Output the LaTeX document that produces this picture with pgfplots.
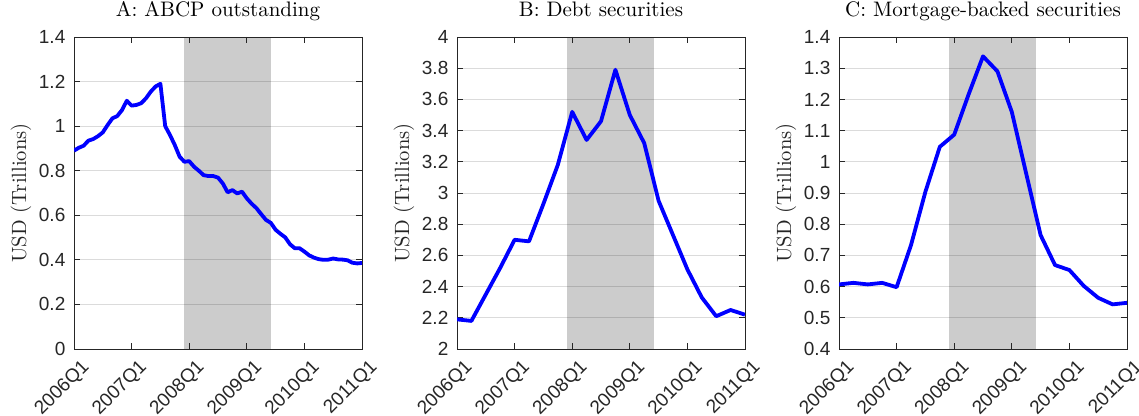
\documentclass[border=0pt]{standalone}
\usepackage{pgfplots}
\pgfplotsset{compat=1.18}
\usepackage{pgfplotstable}
\usepackage{fontspec}
\newfontfamily\helv{Liberation Sans}

\definecolor{recgray}{RGB}{204,204,204}
\definecolor{axgray}{RGB}{38,38,38}
\definecolor{lineblue}{RGB}{0,0,255}

% ABCP outstanding, monthly (m = months since 2006M1)
\pgfplotstableread{
m   v
0   0.890
1   0.903
2   0.912
3   0.935
4   0.942
5   0.955
6   0.972
7   1.005
8   1.035
9   1.045
10  1.072
11  1.114
12  1.092
13  1.095
14  1.103
15  1.125
16  1.155
17  1.178
18  1.190
19  1.000
20  0.960
21  0.915
22  0.863
23  0.840
24  0.843
25  0.818
26  0.800
27  0.780
28  0.776
29  0.776
30  0.769
31  0.743
32  0.703
33  0.713
34  0.698
35  0.706
36  0.676
37  0.652
38  0.632
39  0.605
40  0.579
41  0.566
42  0.535
43  0.517
44  0.501
45  0.470
46  0.452
47  0.452
48  0.437
49  0.420
50  0.410
51  0.403
52  0.400
53  0.401
54  0.406
55  0.402
56  0.401
57  0.398
58  0.387
59  0.384
60  0.386
}\abcp

% Debt securities, quarterly (q = quarters since 2006Q1)
\pgfplotstableread{
q   v
0   2.19
1   2.18
2   2.35
3   2.52
4   2.70
5   2.69
6   2.93
7   3.18
8   3.52
9   3.34
10  3.46
11  3.79
12  3.50
13  3.32
14  2.95
15  2.73
16  2.51
17  2.33
18  2.21
19  2.25
20  2.22
}\debt

% Mortgage-backed securities, quarterly
\pgfplotstableread{
q   v
0   0.607
1   0.612
2   0.607
3   0.612
4   0.598
5   0.733
6   0.904
7   1.048
8   1.087
9   1.216
10  1.338
11  1.290
12  1.160
13  0.962
14  0.765
15  0.669
16  0.653
17  0.602
18  0.564
19  0.543
20  0.548
}\mbs

\pgfplotsset{
  panel/.style={
    scale only axis, width=144pt, height=156pt,
    anchor=south west,
    set layers,
    xmin=2006, xmax=2011,
    xtick={2006,2007,2008,2009,2010,2011},
    xticklabels={2006Q1,2007Q1,2008Q1,2009Q1,2010Q1,2011Q1},
    tick label style={font=\helv\fontsize{9.5}{10}\selectfont, text=axgray},
    xticklabel style={rotate=45, anchor=north east, xshift=2.5pt, yshift=-2pt},
    yticklabel style={xshift=-0.8pt},
    /pgf/number format/assume math mode=true,
    ymajorgrids,
    grid style={black, opacity=0.14, line width=0.45pt},
    axis line style={axgray, line width=0.45pt},
    major tick style={axgray, line width=0.45pt},
    major tick length=3pt,
    tick align=inside,
    ylabel={USD (Trillions)},
    every axis y label/.style={at={(axis description cs:-0.184,0.5)},
      rotate=90, anchor=center, font=\fontsize{10.3}{12}\selectfont, text=axgray},
    title style={at={(0.5,1)}, anchor=base, yshift=4pt,
      font=\fontsize{10.5}{12}\selectfont},
  },
  recession/.style={on layer=axis background, draw=none, fill=recgray},
  series/.style={lineblue, line width=1.9pt, line join=round, mark=none},
}

\begin{document}
\begin{tikzpicture}

\begin{axis}[panel, at={(37pt,33.5pt)},
  title={A: ABCP outstanding},
  ymin=0, ymax=1.4, ytick={0,0.2,0.4,0.6,0.8,1,1.2,1.4}]
  \addplot[recession] coordinates {(2007.9167,0) (2009.4167,0) (2009.4167,1.4) (2007.9167,1.4)} --cycle;
  \addplot[series] table[x expr=2006+\thisrow{m}/12, y=v] {\abcp};
\end{axis}

\begin{axis}[panel, at={(228.5pt,33.5pt)},
  title={B: Debt securities},
  ymin=2, ymax=4, ytick={2,2.2,2.4,2.6,2.8,3,3.2,3.4,3.6,3.8,4}]
  \addplot[recession] coordinates {(2007.9167,2) (2009.4167,2) (2009.4167,4) (2007.9167,4)} --cycle;
  \addplot[series] table[x expr=2006+\thisrow{q}/4, y=v] {\debt};
\end{axis}

\begin{axis}[panel, at={(419.5pt,33.5pt)},
  title={C: Mortgage-backed securities},
  ymin=0.4, ymax=1.4, ytick={0.4,0.5,0.6,0.7,0.8,0.9,1,1.1,1.2,1.3,1.4}]
  \addplot[recession] coordinates {(2007.9167,0.4) (2009.4167,0.4) (2009.4167,1.4) (2007.9167,1.4)} --cycle;
  \addplot[series] table[x expr=2006+\thisrow{q}/4, y=v] {\mbs};
\end{axis}

\pgfresetboundingbox
\path[use as bounding box] (0,0) rectangle (569.5pt,208pt);
\end{tikzpicture}
\end{document}
